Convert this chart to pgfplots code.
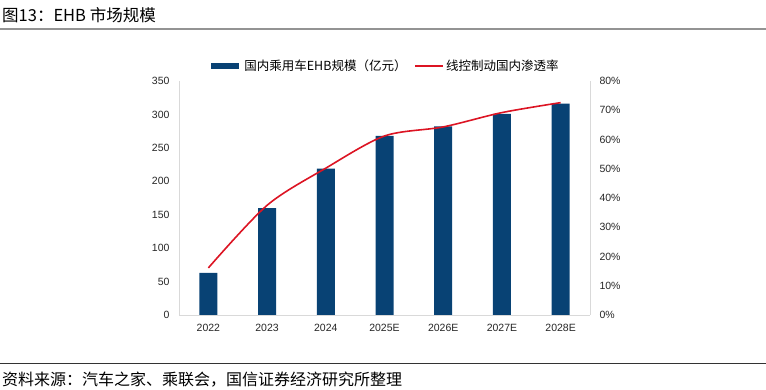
\documentclass[border=0pt]{standalone}
\usepackage{pgfplots}
\pgfplotsset{compat=1.18}
\usepackage{fontspec}
\setmainfont{Liberation Sans}
\newfontfamily\cjk{Noto Sans CJK SC}
\definecolor{barblue}{RGB}{8,66,116}
\definecolor{linered}{RGB}{220,20,35}
\definecolor{axgray}{RGB}{217,217,217}
\pgfplotstableread{
x val pct
0 63 16.1
1 160 37.5
2 219 50.2
3 268 61.2
4 282 64.3
5 301 69.2
6 316 72.6
}\datatab
\begin{document}
\begin{tikzpicture}
\path[use as bounding box] (0pt,0pt) rectangle (766pt,390pt);
% title
\node[anchor=west,inner sep=0pt] at (2pt,375pt) {\cjk\fontsize{16.5}{19}\selectfont 图13：EHB 市场规模};
\draw[line width=1.8pt, color=gray!85] (0pt,361pt) -- (766pt,361pt);
% footer
\draw[line width=0.9pt, color=black!80] (0pt,27pt) -- (766pt,27pt);
\node[anchor=west,inner sep=0pt] at (2pt,10pt) {\cjk\fontsize{16}{18}\selectfont 资料来源：汽车之家、乘联会，国信证券经济研究所整理};
\begin{axis}[
  at={(179pt,75pt)}, anchor=south west,
  scale only axis, width=411pt, height=234pt,
  xmin=-0.5, xmax=6.5, ymin=0, ymax=350,
  axis x line*=bottom, axis y line*=left,
  axis line style={axgray, line width=0.8pt},
  xtick={0,...,6},
  xticklabels={2022,2023,2024,2025E,2026E,2027E,2028E},
  ytick={0,50,...,350},
  major tick length=0pt,
  tick label style={font=\fontsize{10.5}{12}\selectfont, text=black!85},
  yticklabel style={xshift=-6pt},
  xticklabel style={yshift=-6pt},
  /pgf/number format/assume math mode=true,
]
\addplot[ybar, bar width=18pt, fill=barblue, draw=none] table[x=x,y=val] {\datatab};
\end{axis}
\begin{axis}[
  at={(179pt,75pt)}, anchor=south west,
  scale only axis, width=411pt, height=234pt,
  xmin=-0.5, xmax=6.5, ymin=0, ymax=80,
  hide x axis,
  axis y line*=right,
  axis line style={axgray, line width=0.8pt},
  ytick={0,10,...,80},
  yticklabel={\pgfmathprintnumber{\tick}\%},
  major tick length=0pt,
  tick label style={font=\fontsize{10.5}{12}\selectfont, text=black!85},
  yticklabel style={xshift=6pt},
  /pgf/number format/assume math mode=true,
  legend style={at={(0.5,1.064)}, anchor=center, draw=none, fill=none,
    font=\cjk\fontsize{12.5}{14}\selectfont, legend columns=2,
    /tikz/every even column/.append style={column sep=6pt}},
  legend image code/.code={\draw[#1] (0pt,0pt) -- (28pt,0pt);},
]
\addlegendimage{line width=6pt, barblue}
\addlegendentry{国内乘用车EHB规模（亿元）}
\addplot[linered, line width=1.6pt, smooth, tension=0.5, mark=none] table[x=x,y=pct] {\datatab};
\addlegendentry{线控制动国内渗透率}
\end{axis}
\end{tikzpicture}
\end{document}
